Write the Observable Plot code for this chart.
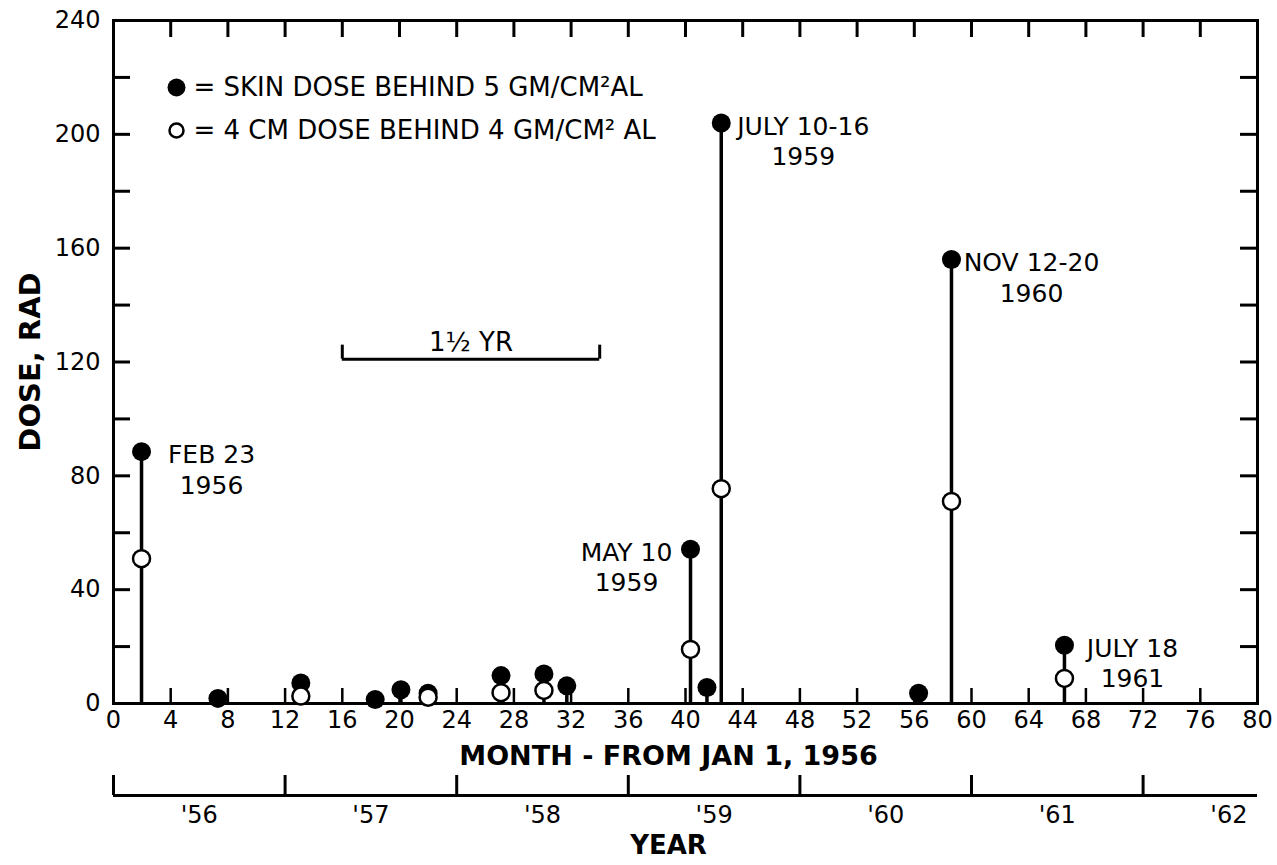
<!DOCTYPE html>
<html><head><meta charset="utf-8">
<script src="https://cdn.jsdelivr.net/npm/d3@7"></script>
<script src="https://cdn.jsdelivr.net/npm/@observablehq/plot@0.6"></script>
<style>
body{margin:0;background:#fff;}
#chart svg{display:block;}
</style></head><body><div id="chart"></div>
<script>
// ---- data ----
const months    = [1.96, 7.3, 13.1, 18.3, 20.1, 22.0, 27.1, 30.1, 31.7, 40.35, 41.5, 42.5, 56.3, 58.6, 66.5];
const skinDose  = [88.5, 1.8, 7.2, 1.4, 4.8, 3.6, 9.8, 10.4, 6.2, 54.2, 5.6, 204, 3.6, 156, 20.5];
const depthDose = [50.9, null, 2.6, null, null, 2.2, 3.8, 4.6, null, 19, null, 75.5, null, 71, 8.8];

const eventMonths = [1.96, 40.35, 42.5, 58.6, 66.5];
const eventDoses  = [88.5, 54.2, 204, 156, 20.5];
const eventLabels = ["FEB 23\n1956", "MAY 10\n1959", "JULY 10-16\n1959", "NOV 12-20\n1960", "JULY 18\n1961"];

const monthTicks     = [0,4,8,12,16,20,24,28,32,36,40,44,48,52,56,60,64,68,72,76,80];
const doseTicks      = [0,40,80,120,160,200,240];
const doseMinorTicks = [20,40,60,80,100,120,140,160,180,200,220];
const yearBoundaries = [0,12,24,36,48,60,72];
const yearLabelMonths = [6,18,30,42,54,66,78];
const yearLabels     = ["'56","'57","'58","'59","'60","'61","'62"];

const bracketStart = 16, bracketEnd = 34, bracketDose = 121, bracketLabel = "1½ YR";
const legendLabels = ["= SKIN DOSE BEHIND 5 GM/CM²AL", "= 4 CM DOSE BEHIND 4 GM/CM² AL"];

const xTitle = "MONTH - FROM JAN 1, 1956";
const yTitle = "DOSE, RAD";
const yearTitle = "YEAR";

// ---- tables ----
const points = months.map((m, i) => ({month: m, skin: skinDose[i], depth: depthDose[i]}));
const depthPoints = points.filter(d => d.depth != null);
const events = eventMonths.map((m, i) => ({month: m, dose: eventDoses[i], label: eventLabels[i]}));
const labelDx = [70, -64, 82, 80, 68];

const FONT = "DejaVu Sans, sans-serif";

const main = Plot.plot({
  width: 1277, height: 775,
  marginLeft: 113, marginRight: 20, marginTop: 20, marginBottom: 72,
  x: {domain: [0, 80]},
  y: {domain: [0, 240]},
  style: {fontFamily: FONT, fontSize: "24px", color: "black", background: "white", overflow: "visible"},
  marks: [
    // inward ticks
    Plot.ruleX(monthTicks, {x: d => d, y1: 0, y2: 0, insetTop: -15, strokeWidth: 2.5}),
    Plot.ruleX(monthTicks, {x: d => d, y1: 240, y2: 240, insetBottom: -17, strokeWidth: 3}),
    Plot.ruleY(doseMinorTicks, {y: d => d, x1: 0, x2: 0, insetRight: -17, strokeWidth: 3}),
    Plot.ruleY(doseMinorTicks, {y: d => d, x1: 80, x2: 80, insetLeft: -17, strokeWidth: 3}),
    Plot.frame({strokeWidth: 3}),
    // tick labels
    Plot.axisX({ticks: monthTicks, tickSize: 0, tickPadding: 7, label: null, fontSize: 24}),
    Plot.axisY({ticks: doseTicks, tickSize: 0, tickPadding: 13, label: null, fontSize: 24}),
    // axis titles
    Plot.text([xTitle], {text: d => d, frameAnchor: "bottom", lineAnchor: "middle", textAnchor: "middle", dx: -17, dy: 53, fontWeight: "bold", fontSize: 27}),
    Plot.text([yTitle], {text: d => d, frameAnchor: "left", lineAnchor: "middle", textAnchor: "middle", dx: -83, rotate: -90, fontWeight: "bold", fontSize: 29}),
    // 1 1/2 yr bracket
    Plot.ruleY([bracketDose], {y: d => d, x1: bracketStart, x2: bracketEnd, strokeWidth: 3}),
    Plot.ruleX([bracketStart, bracketEnd], {x: d => d, y1: bracketDose, y2: bracketDose, insetTop: -14, strokeWidth: 3}),
    Plot.text([bracketLabel], {x: (bracketStart + bracketEnd) / 2, y: bracketDose, text: d => d, lineAnchor: "bottom", dy: -8, fontSize: 26}),
    // stems
    Plot.ruleX(points, {x: "month", y1: 0, y2: "skin", strokeWidth: 3.5}),
    // skin dose (filled)
    Plot.dot(points, {x: "month", y: "skin", r: 9.5, fill: "black", stroke: "none"}),
    // 4 cm dose (open)
    Plot.dot(depthPoints, {x: "month", y: "depth", r: 8.5, fill: "white", stroke: "black", strokeWidth: 2.5}),
    // event labels
    ...events.map((e, i) => Plot.text([e], {x: "month", y: "dose", text: "label", textAnchor: "middle", lineAnchor: "top", dx: labelDx[i], dy: -10, lineHeight: 1.22, fontSize: 25})),
    // legend
    Plot.dot([0], {frameAnchor: "top-left", dx: 63, dy: 67, r: 9, fill: "black", stroke: "none"}),
    Plot.text([legendLabels[0]], {text: d => d, frameAnchor: "top-left", lineAnchor: "middle", dx: 80, dy: 67, textAnchor: "start", fontSize: 26}),
    Plot.dot([0], {frameAnchor: "top-left", dx: 63, dy: 110, r: 7, fill: "white", stroke: "black", strokeWidth: 2.5}),
    Plot.text([legendLabels[1]], {text: d => d, frameAnchor: "top-left", lineAnchor: "middle", dx: 80, dy: 110, textAnchor: "start", fontSize: 26})
  ]
});

const years = Plot.plot({
  width: 1277, height: 90,
  marginLeft: 113, marginRight: 20, marginTop: 0, marginBottom: 70,
  x: {domain: [0, 80]},
  y: {domain: [0, 1], axis: null},
  style: {fontFamily: FONT, fontSize: "24px", color: "black", background: "white", overflow: "visible"},
  marks: [
    Plot.ruleY([0], {strokeWidth: 3}),
    Plot.ruleX(yearBoundaries, {x: d => d, y1: 0, y2: 0, insetTop: -20, strokeWidth: 3}),
    Plot.axisX({ticks: yearLabelMonths, tickSize: 0, tickPadding: 10, label: null, fontSize: 24,
      tickFormat: d => yearLabels[yearLabelMonths.indexOf(d)]}),
    Plot.text([yearTitle], {text: d => d, frameAnchor: "bottom", lineAnchor: "middle", textAnchor: "middle", dx: -17, dy: 50, fontWeight: "bold", fontSize: 26})
  ]
});

document.getElementById("chart").append(main, years);
</script></body></html>
